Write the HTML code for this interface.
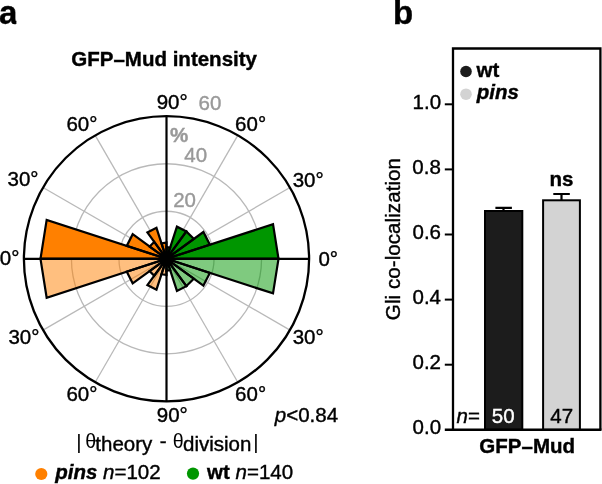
<!DOCTYPE html>
<html><head><meta charset="utf-8"><style>
html,body{margin:0;padding:0;background:#fff;}
body{width:602px;height:484px;overflow:hidden;}
svg{display:block;will-change:transform;font-family:"Liberation Sans",sans-serif;}
</style></head><body>
<svg width="602" height="484" viewBox="0 0 602 484">
<defs><clipPath id="ca"><rect x="-5" y="0" width="21.4" height="40"/></clipPath></defs>
<circle cx="166.5" cy="258.8" r="47.53" fill="none" stroke="#b9b9b9" stroke-width="1.3"/>
<circle cx="166.5" cy="258.8" r="95.07" fill="none" stroke="#b9b9b9" stroke-width="1.3"/>
<line x1="166.5" y1="258.8" x2="290.00" y2="187.50" stroke="#b9b9b9" stroke-width="1.3"/>
<line x1="166.5" y1="258.8" x2="237.80" y2="135.30" stroke="#b9b9b9" stroke-width="1.3"/>
<line x1="166.5" y1="258.8" x2="95.20" y2="135.30" stroke="#b9b9b9" stroke-width="1.3"/>
<line x1="166.5" y1="258.8" x2="43.00" y2="187.50" stroke="#b9b9b9" stroke-width="1.3"/>
<line x1="166.5" y1="258.8" x2="43.00" y2="330.10" stroke="#b9b9b9" stroke-width="1.3"/>
<line x1="166.5" y1="258.8" x2="95.20" y2="382.30" stroke="#b9b9b9" stroke-width="1.3"/>
<line x1="166.5" y1="258.8" x2="237.80" y2="382.30" stroke="#b9b9b9" stroke-width="1.3"/>
<line x1="166.5" y1="258.8" x2="290.00" y2="330.10" stroke="#b9b9b9" stroke-width="1.3"/>
<path d="M166.50,258.80 L278.50,258.80 L273.02,224.19 Z" fill="#009600"/>
<path d="M166.50,258.80 L278.50,258.80 L273.02,293.41 Z" fill="#009600" fill-opacity="0.5"/>
<path d="M166.50,258.80 L209.87,244.71 L203.39,232.00 Z" fill="#009600"/>
<path d="M166.50,258.80 L209.87,272.89 L203.39,285.60 Z" fill="#009600" fill-opacity="0.5"/>
<path d="M166.50,258.80 L193.84,238.93 L186.37,231.46 Z" fill="#009600"/>
<path d="M166.50,258.80 L193.84,278.67 L186.37,286.14 Z" fill="#009600" fill-opacity="0.5"/>
<path d="M166.50,258.80 L186.37,231.46 L176.94,226.65 Z" fill="#009600"/>
<path d="M166.50,258.80 L186.37,286.14 L176.94,290.95 Z" fill="#009600" fill-opacity="0.5"/>
<path d="M166.50,258.80 L170.15,247.58 L166.50,247.00 Z" fill="#009600"/>
<path d="M166.50,258.80 L170.15,270.02 L166.50,270.60 Z" fill="#009600" fill-opacity="0.5"/>
<path d="M166.50,258.80 L40.50,258.80 L46.67,219.86 Z" fill="#ff8000"/>
<path d="M166.50,258.80 L40.50,258.80 L46.67,297.74 Z" fill="#ff8000" fill-opacity="0.5"/>
<path d="M166.50,258.80 L126.75,245.88 L132.68,234.23 Z" fill="#ff8000"/>
<path d="M166.50,258.80 L126.75,271.72 L132.68,283.37 Z" fill="#ff8000" fill-opacity="0.5"/>
<path d="M166.50,258.80 L149.59,246.52 L154.22,241.89 Z" fill="#ff8000"/>
<path d="M166.50,258.80 L149.59,271.08 L154.22,275.71 Z" fill="#ff8000" fill-opacity="0.5"/>
<path d="M166.50,258.80 L147.40,232.51 L156.46,227.89 Z" fill="#ff8000"/>
<path d="M166.50,258.80 L147.40,285.09 L156.46,289.71 Z" fill="#ff8000" fill-opacity="0.5"/>
<path d="M166.50,258.80 L161.49,243.39 L166.50,242.60 Z" fill="#ff8000"/>
<path d="M166.50,258.80 L161.49,274.21 L166.50,275.00 Z" fill="#ff8000" fill-opacity="0.5"/>
<g fill="none" stroke="#000" stroke-width="2.2" stroke-linejoin="miter"><path d="M166.50,258.80 L278.50,258.80 L273.02,224.19 Z"/><path d="M166.50,258.80 L278.50,258.80 L273.02,293.41 Z"/><path d="M166.50,258.80 L209.87,244.71 L203.39,232.00 Z"/><path d="M166.50,258.80 L209.87,272.89 L203.39,285.60 Z"/><path d="M166.50,258.80 L193.84,238.93 L186.37,231.46 Z"/><path d="M166.50,258.80 L193.84,278.67 L186.37,286.14 Z"/><path d="M166.50,258.80 L186.37,231.46 L176.94,226.65 Z"/><path d="M166.50,258.80 L186.37,286.14 L176.94,290.95 Z"/><path d="M166.50,258.80 L170.15,247.58 L166.50,247.00 Z"/><path d="M166.50,258.80 L170.15,270.02 L166.50,270.60 Z"/><path d="M166.50,258.80 L40.50,258.80 L46.67,219.86 Z"/><path d="M166.50,258.80 L40.50,258.80 L46.67,297.74 Z"/><path d="M166.50,258.80 L126.75,245.88 L132.68,234.23 Z"/><path d="M166.50,258.80 L126.75,271.72 L132.68,283.37 Z"/><path d="M166.50,258.80 L149.59,246.52 L154.22,241.89 Z"/><path d="M166.50,258.80 L149.59,271.08 L154.22,275.71 Z"/><path d="M166.50,258.80 L147.40,232.51 L156.46,227.89 Z"/><path d="M166.50,258.80 L147.40,285.09 L156.46,289.71 Z"/><path d="M166.50,258.80 L161.49,243.39 L166.50,242.60 Z"/><path d="M166.50,258.80 L161.49,274.21 L166.50,275.00 Z"/></g>
<line x1="23.900000000000006" y1="258.8" x2="309.1" y2="258.8" stroke="#000" stroke-width="2.2"/>
<line x1="166.5" y1="116.20000000000002" x2="166.5" y2="401.4" stroke="#000" stroke-width="2.2"/>
<circle cx="166.5" cy="258.8" r="142.6" fill="none" stroke="#000" stroke-width="2.3"/>
<circle cx="41.3" cy="474" r="6.1" fill="#ff8000"/>
<circle cx="193" cy="473.6" r="6.1" fill="#009600"/>
<rect x="485" y="211.00" width="37.3" height="218.80" fill="#1c1c1c" stroke="#000" stroke-width="2"/>
<rect x="543.1" y="200.30" width="36.8" height="229.50" fill="#d3d3d3" stroke="#000" stroke-width="2"/>
<path d="M503.5,211.00 V207.8 M495.4,207.8 H511.9" stroke="#000" stroke-width="2.2" fill="none"/>
<path d="M561.5,200.30 V194 M553.3,194 H569.8" stroke="#000" stroke-width="2.2" fill="none"/>
<path d="M453,429.8 V48.5 H600.4 V429.8" stroke="#000" stroke-width="2.3" fill="none" stroke-linejoin="miter"/>
<line x1="444.8" y1="429.8" x2="601.5" y2="429.8" stroke="#000" stroke-width="2.4"/>
<line x1="444.8" y1="364.70" x2="453" y2="364.70" stroke="#000" stroke-width="2"/>
<line x1="444.8" y1="299.60" x2="453" y2="299.60" stroke="#000" stroke-width="2"/>
<line x1="444.8" y1="234.50" x2="453" y2="234.50" stroke="#000" stroke-width="2"/>
<line x1="444.8" y1="169.40" x2="453" y2="169.40" stroke="#000" stroke-width="2"/>
<line x1="444.8" y1="104.30" x2="453" y2="104.30" stroke="#000" stroke-width="2"/>
<circle cx="466" cy="71.5" r="5.8" fill="#1c1c1c"/>
<circle cx="466" cy="94.2" r="5.8" fill="#d3d3d3"/>
<text id="t_a" x="-1.00" y="24.20" font-size="33" font-weight="bold" stroke="#000" stroke-width="0.4" clip-path="url(#ca)">a</text>
<text id="t_b" x="393.00" y="23.50" font-size="33" font-weight="bold" stroke="#000" stroke-width="0.4">b</text>
<text id="t_title" x="164.15" y="65.50" font-size="20.5" font-weight="bold" stroke="#000" stroke-width="0.4" text-anchor="middle">GFP–Mud intensity</text>
<text id="t_90top" x="156.70" y="108.80" font-size="20.5" stroke="#000" stroke-width="0.4">90°</text>
<text id="t_60gray" x="198.50" y="109.60" font-size="20.5" fill="#999" stroke="#999" stroke-width="0.4">60</text>
<text id="t_60UL" x="66.40" y="130.55" font-size="20.5" stroke="#000" stroke-width="0.4">60°</text>
<text id="t_60UR" x="235.10" y="130.55" font-size="20.5" stroke="#000" stroke-width="0.4">60°</text>
<text id="t_pct" x="169.95" y="142.35" font-size="20.5" font-weight="bold" fill="#999" stroke="#999" stroke-width="0.4">%</text>
<text id="t_40" x="184.30" y="162.40" font-size="20.5" fill="#999" stroke="#999" stroke-width="0.4">40</text>
<text id="t_30UL" x="7.50" y="186.05" font-size="20.5" stroke="#000" stroke-width="0.4">30°</text>
<text id="t_30UR" x="292.70" y="187.10" font-size="20.5" stroke="#000" stroke-width="0.4">30°</text>
<text id="t_20" x="173.20" y="207.15" font-size="20.5" fill="#999" stroke="#999" stroke-width="0.4">20</text>
<text id="t_0L" x="-0.20" y="265.35" font-size="20.5" stroke="#000" stroke-width="0.4">0°</text>
<text id="t_0R" x="318.40" y="265.95" font-size="20.5" stroke="#000" stroke-width="0.4">0°</text>
<text id="t_30LL" x="8.40" y="344.05" font-size="20.5" stroke="#000" stroke-width="0.4">30°</text>
<text id="t_30LR" x="292.70" y="344.05" font-size="20.5" stroke="#000" stroke-width="0.4">30°</text>
<text id="t_60LL" x="66.40" y="400.85" font-size="20.5" stroke="#000" stroke-width="0.4">60°</text>
<text id="t_60LR" x="235.10" y="400.85" font-size="20.5" stroke="#000" stroke-width="0.4">60°</text>
<text id="t_90bot" x="156.75" y="422.20" font-size="20.5" stroke="#000" stroke-width="0.4">90°</text>
<text id="t_pval" x="274.75" y="422.40" font-size="20.5" stroke="#000" stroke-width="0.4"><tspan font-style="italic">p</tspan>&lt;0.84</text>
<text id="t_bar1" x="76.35" y="448.75" font-size="20.5">|</text>
<text id="t_th1" x="85.15" y="448.25" font-size="19.6">θ</text>
<text id="t_theory" x="95.30" y="451.30" font-size="20.5" stroke="#000" stroke-width="0.4">theory</text>
<text id="t_minus" x="159.75" y="447.80" font-size="20.5" stroke="#000" stroke-width="0.4">-</text>
<text id="t_th2" x="172.65" y="448.25" font-size="19.6">θ</text>
<text id="t_division" x="183.05" y="450.50" font-size="20.5" stroke="#000" stroke-width="0.4">division</text>
<text id="t_bar2" x="253.30" y="448.75" font-size="20.5">|</text>
<text id="t_legpins" x="55.20" y="479.00" font-size="20.5" font-weight="bold" font-style="italic" stroke="#000" stroke-width="0.4">pins</text>
<text id="t_legn1" x="103.00" y="479.00" font-size="20.5" stroke="#000" stroke-width="0.4"><tspan font-style="italic">n</tspan>=102</text>
<text id="t_legwt" x="207.05" y="479.00" font-size="20.5" font-weight="bold" stroke="#000" stroke-width="0.4">wt</text>
<text id="t_legn2" x="235.60" y="479.00" font-size="20.5" stroke="#000" stroke-width="0.4"><tspan font-style="italic">n</tspan>=140</text>
<text id="t_t00" x="441.10" y="434.40" font-size="20.5" stroke="#000" stroke-width="0.4" text-anchor="end">0.0</text>
<text id="t_t02" x="441.00" y="369.28" font-size="20.5" stroke="#000" stroke-width="0.4" text-anchor="end">0.2</text>
<text id="t_t04" x="441.00" y="304.18" font-size="20.5" stroke="#000" stroke-width="0.4" text-anchor="end">0.4</text>
<text id="t_t06" x="441.00" y="239.08" font-size="20.5" stroke="#000" stroke-width="0.4" text-anchor="end">0.6</text>
<text id="t_t08" x="440.80" y="173.90" font-size="20.5" stroke="#000" stroke-width="0.4" text-anchor="end">0.8</text>
<text id="t_t10" x="441.10" y="108.95" font-size="20.5" stroke="#000" stroke-width="0.4" text-anchor="end">1.0</text>
<text id="t_ylab" font-size="20.5" stroke="#000" stroke-width="0.4" text-anchor="middle" letter-spacing="0.08" transform="translate(399.85,239.05) rotate(-90)">Gli co-localization</text>
<text id="t_wt" x="476.50" y="76.65" font-size="20.5" font-weight="bold" stroke="#000" stroke-width="0.4">wt</text>
<text id="t_pins" x="476.85" y="98.60" font-size="20.5" font-weight="bold" font-style="italic" stroke="#000" stroke-width="0.4">pins</text>
<text id="t_ns" x="549.55" y="185.60" font-size="20.5" font-weight="bold" stroke="#000" stroke-width="0.4">ns</text>
<text id="t_neq" x="456.55" y="423.00" font-size="20.5" stroke="#000" stroke-width="0.4"><tspan font-style="italic">n</tspan>=</text>
<text id="t_50" x="491.75" y="422.60" font-size="20.5" fill="#fff" stroke="#fff" stroke-width="0.4">50</text>
<text id="t_47" x="550.30" y="422.60" font-size="20.5" stroke="#000" stroke-width="0.4">47</text>
<text id="t_gfpmud" x="527.20" y="452.65" font-size="20.5" font-weight="bold" stroke="#000" stroke-width="0.4" text-anchor="middle">GFP–Mud</text>
</svg>
</body></html>
